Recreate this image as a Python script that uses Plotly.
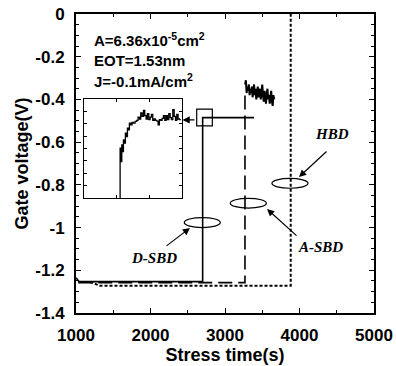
import plotly.graph_objects as go

# ---- data ----
dsbd_t = [1000, 1020, 1040, 2700, 2700, 3390]
dsbd_v = [-1.235, -1.245, -1.253, -1.253, -0.485, -0.485]

asbd_t = [1030, 3268, 3268]
asbd_v = [-1.258, -1.258, -0.37]
asbd_noise_t = [3270, 3280, 3290, 3300, 3310, 3320, 3330, 3340, 3350, 3360,
                3370, 3380, 3390, 3400, 3410, 3420, 3430, 3440, 3450, 3460,
                3470, 3480, 3490, 3500, 3510, 3520, 3530, 3540, 3550, 3560,
                3570, 3580, 3590, 3600, 3610, 3620, 3630, 3640, 3650, 3660]
asbd_noise_v = [-0.33, -0.31, -0.37, -0.34, -0.36, -0.33, -0.38, -0.35, -0.37, -0.34,
                -0.39, -0.36, -0.33, -0.38, -0.35, -0.40, -0.36, -0.34, -0.39, -0.37,
                -0.35, -0.40, -0.37, -0.33, -0.38, -0.41, -0.36, -0.39, -0.42, -0.37,
                -0.35, -0.40, -0.38, -0.42, -0.39, -0.36, -0.41, -0.43, -0.38, -0.40]

hbd_t = [1190, 1320, 3882, 3882]
hbd_v = [-1.255, -1.272, -1.272, 0.05]

# inset (zoom on D-SBD breakdown, arbitrary units)
inset_x = [36.9, 36.9, 37.9, 38.6, 39.2, 40.3, 41.3, 42.3, 43.3, 44.4,
           45.4, 46.4, 47.8, 49.1, 50.5, 52.2, 53.9, 55.3, 56.7, 58.0,
           59.4, 60.8, 62.1, 63.5, 64.8, 66.2, 67.6, 68.9, 70.3, 71.7,
           73.0, 74.4, 75.8, 77.1, 78.5, 79.9, 81.2, 82.6, 84.0, 85.3,
           86.7, 88.1, 89.4, 90.8, 92.2, 93.5, 94.9, 96.2, 97.6, 99.0]
inset_y = [0.0, 50.2, 36.6, 53.6, 46.8, 58.6, 55.3, 65.4, 62.0, 70.5,
           68.8, 75.6, 73.9, 76.3, 75.6, 77.3, 78.3, 81.7, 79.7, 85.8,
           82.4, 88.5, 83.1, 79.7, 85.1, 79.0, 81.7, 84.4, 78.3, 79.7,
           78.3, 77.6, 73.9, 79.0, 78.3, 80.3, 83.1, 78.3, 83.1, 79.0,
           85.1, 81.0, 79.0, 89.2, 82.4, 78.3, 84.4, 79.7, 79.0, 79.0]

xticks = [1000, 2000, 3000, 4000, 5000]
yticks = [0, -0.2, -0.4, -0.6, -0.8, -1, -1.2, -1.4]
yticklabels = ["0", "-0.2", "-0.4", "-0.6", "-0.8", "-1", "-1.2", "-1.4"]

SANS = "Liberation Sans, Arial"
SERIF = "Liberation Serif, Times New Roman"

fig = go.Figure()
fig.add_trace(go.Scatter(x=dsbd_t, y=dsbd_v, mode="lines",
                         line=dict(color="black", width=1.6), showlegend=False))
fig.add_trace(go.Scatter(x=asbd_t, y=asbd_v, mode="lines",
                         line=dict(color="black", width=1.6, dash="14px,6px"), showlegend=False))
fig.add_trace(go.Scatter(x=asbd_noise_t, y=asbd_noise_v, mode="lines",
                         line=dict(color="black", width=2), showlegend=False))
fig.add_trace(go.Scatter(x=hbd_t, y=hbd_v, mode="lines",
                         line=dict(color="black", width=2, dash="3px,2px"), showlegend=False))
fig.add_trace(go.Scatter(x=inset_x, y=inset_y, mode="lines", line_shape="hv",
                         line=dict(color="black", width=1.3), showlegend=False,
                         xaxis="x2", yaxis="y2"))

fig.update_layout(
    width=396, height=366,
    margin=dict(l=76, r=22, t=14, b=53),
    paper_bgcolor="white", plot_bgcolor="white",
    font=dict(family=SANS, color="black"),
    xaxis=dict(range=[1000, 5000], tickvals=xticks, ticktext=[str(v) for v in xticks],
               ticks="inside", ticklen=5, tickwidth=1.2, tickcolor="black",
               minor=dict(ticks="inside", dtick=500, ticklen=3, tickcolor="black"),
               showline=True, linecolor="black", linewidth=2, mirror="allticks",
               showgrid=False, zeroline=False, automargin=False,
               tickfont=dict(size=17, family=SANS, weight="bold"),
               ticklabelstandoff=6,
               title=dict(text="Stress time(s)", font=dict(size=18, family=SANS, weight="bold"),
                          standoff=2),
               domain=[0, 1]),
    yaxis=dict(range=[-1.4, 0], tickvals=yticks, ticktext=yticklabels,
               ticks="inside", ticklen=5, tickwidth=1.2, tickcolor="black",
               minor=dict(ticks="inside", dtick=0.05, ticklen=3, tickcolor="black"),
               showline=True, linecolor="black", linewidth=2, mirror="allticks",
               showgrid=False, zeroline=False, automargin=False,
               tickfont=dict(size=17, family=SANS, weight="bold"),
               ticklabelstandoff=6,
               title=dict(text="Gate voltage(V)", font=dict(size=18, family=SANS, weight="bold"),
                          standoff=2),
               domain=[0, 1]),
    xaxis2=dict(domain=[0.027, 0.355], anchor="y2", range=[0, 100],
                showline=True, linecolor="black", linewidth=1.3, mirror="allticks",
                ticks="inside", dtick=33.3, ticklen=3, tickcolor="black",
                showticklabels=False, showgrid=False, zeroline=False, automargin=False),
    yaxis2=dict(domain=[0.385, 0.716], anchor="x2", range=[0, 100],
                showline=True, linecolor="black", linewidth=1.3, mirror="allticks",
                ticks="inside", dtick=12.5, ticklen=3, tickcolor="black",
                showticklabels=False, showgrid=False, zeroline=False, automargin=False),
)

# small box around breakdown, ellipses
fig.add_shape(type="rect", xref="x", yref="y", x0=2620, x1=2830, y0=-0.524, y1=-0.445,
              line=dict(color="black", width=1.2))
for (x0, x1, y0, y1) in [(2453, 2937, -1.0, -0.953),
                         (3071, 3555, -0.909, -0.863),
                         (3630, 4114, -0.816, -0.770)]:
    fig.add_shape(type="circle", xref="x", yref="y", x0=x0, x1=x1, y0=y0, y1=y1,
                  line=dict(color="black", width=1.2))

# arrows
arrows = [((2610, -0.496), (2430, -0.496)),
          ((2195, -1.091), (2530, -1.002)),
          ((3980, -1.044), (3564, -0.913)),
          ((4383, -0.637), (3993, -0.763))]
for (tail, head) in arrows:
    fig.add_annotation(x=head[0], y=head[1], ax=tail[0], ay=tail[1],
                       xref="x", yref="y", axref="x", ayref="y",
                       showarrow=True, arrowhead=2, arrowsize=1.2, arrowwidth=1.2,
                       arrowcolor="black", text="")

# labels
for (txt, x, y) in [("D-SBD", 2047, -1.142), ("A-SBD", 4282, -1.093), ("HBD", 4436, -0.562)]:
    fig.add_annotation(x=x, y=y, xref="x", yref="y", text=txt, showarrow=False,
                       font=dict(family=SERIF, size=15, weight="bold", style="italic", color="black"))

# info text (positions in paper coords)
info = ["A=6.36x10<sup>-5</sup>cm<sup>2</sup>", "EOT=1.53nm", "J=-0.1mA/cm<sup>2</sup>"]
info_y = [0.915, 0.846, 0.779]
for txt, yy in zip(info, info_y):
    fig.add_annotation(x=0.054, y=yy, xref="paper", yref="paper", text=txt,
                       showarrow=False, xanchor="left", yanchor="middle",
                       font=dict(family=SANS, size=15, weight="bold", color="black"))

fig.write_html("out.html")
